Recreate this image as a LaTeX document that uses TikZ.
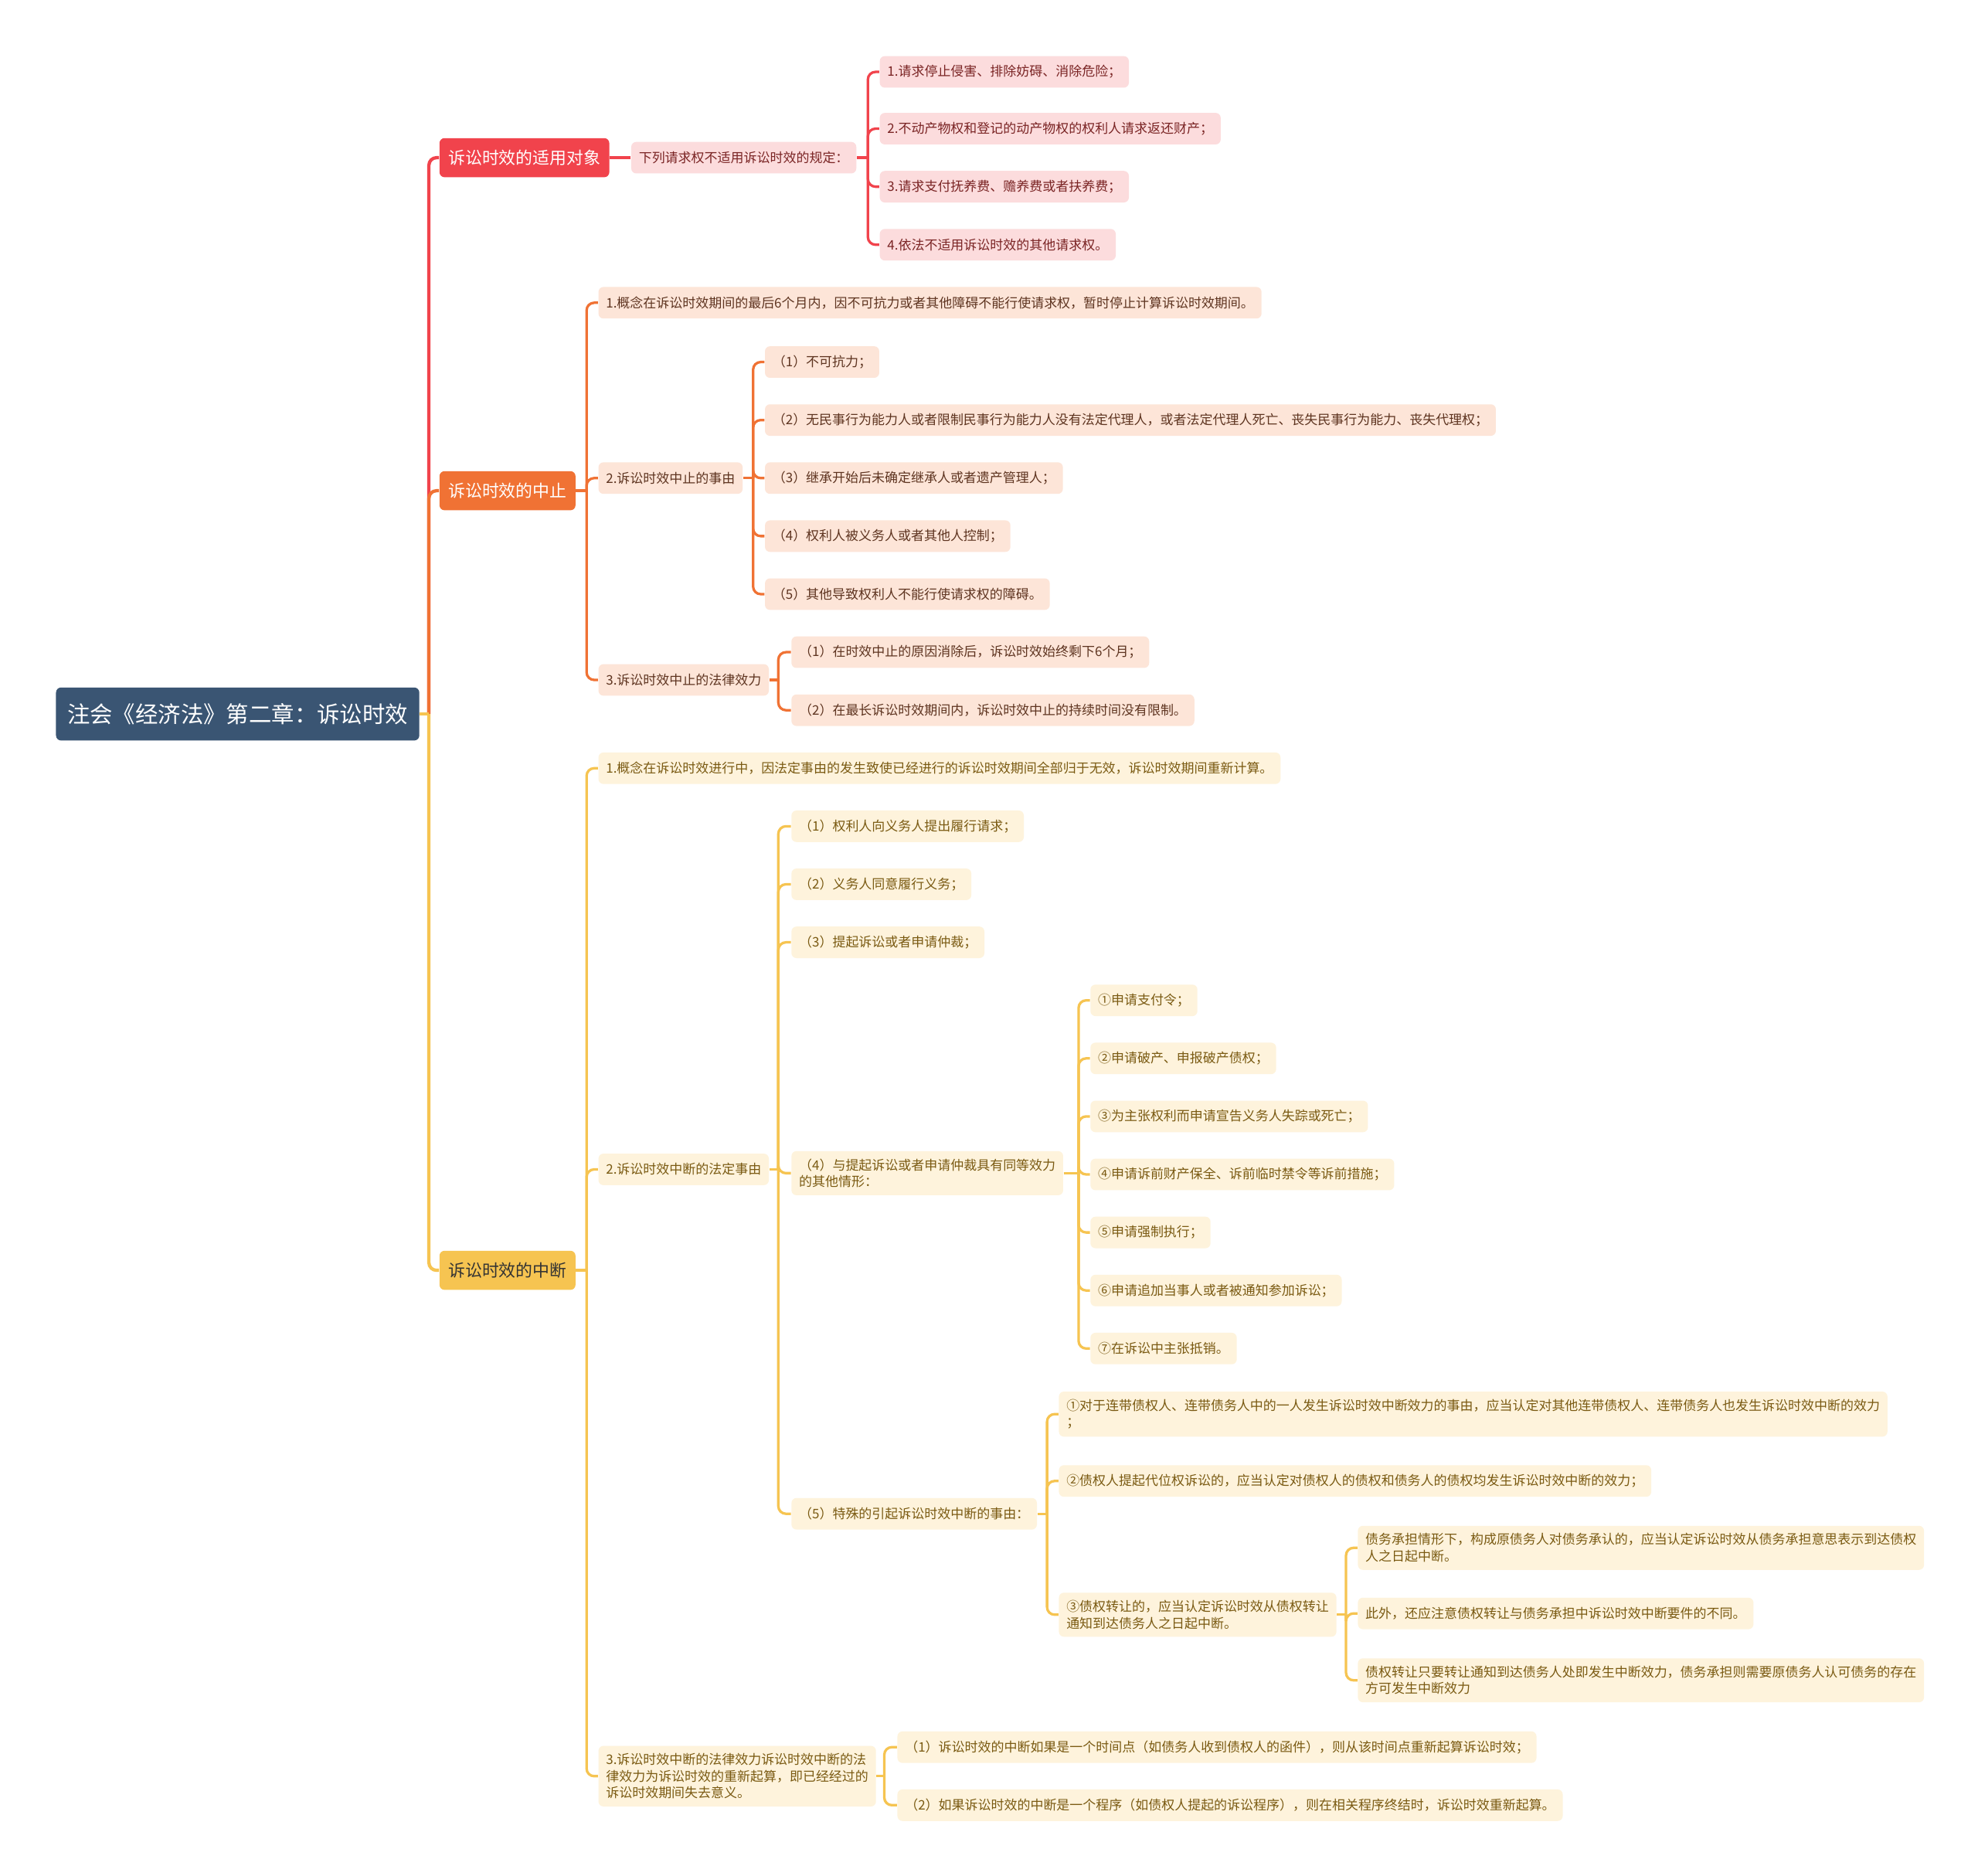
\documentclass[tikz,border=0pt]{standalone}
\usepackage{fontspec}
\setmainfont{Noto Sans CJK SC}
\definecolor{rootc}{HTML}{3A5573}
\definecolor{redc}{HTML}{F1434C}
\definecolor{redl}{HTML}{FCDCDD}
\definecolor{redt}{HTML}{7A2424}
\definecolor{orc}{HTML}{F07234}
\definecolor{orl}{HTML}{FDE5D8}
\definecolor{ort}{HTML}{5E3420}
\definecolor{yec}{HTML}{F6C451}
\definecolor{yel}{HTML}{FEF3DC}
\definecolor{yet}{HTML}{7A5A12}
\tikzset{
  base/.style={anchor=west, rounded corners=2pt, align=left},
  rootbox/.style={base, fill=rootc, text=white, font=\fontsize{9}{11}\selectfont, minimum height=21pt, inner xsep=4.5pt},
  lone/.style={base, font=\fontsize{6.7}{8}\selectfont, minimum height=15.5pt, inner xsep=3.5pt},
  leaf/.style={base, font=\fontsize{5.2}{6.6}\selectfont, minimum height=12.5pt, inner xsep=3pt, inner ysep=3pt},
  rleaf/.style={leaf, fill=redl, text=redt},
  oleaf/.style={leaf, fill=orl, text=ort},
  yleaf/.style={leaf, fill=yel, text=yet},
  trunk/.style={line width=1.3pt, rounded corners=3pt},
  conn/.style={line width=1pt, rounded corners=3pt}
}
\begin{document}
\begin{tikzpicture}[x=0.5pt,y=-0.5pt]
\fill[white] (0,0) rectangle (1568,1487);
\useasboundingbox (0,0) rectangle (1568,1487);

% root and level 1
\node[rootbox] (root) at (44,566) {注会《经济法》第二章：诉讼时效};
\node[lone, fill=redc, text=white] (A) at (348,125) {诉讼时效的适用对象};
\node[lone, fill=orc, text=white] (B) at (348,389) {诉讼时效的中止};
\node[lone, fill=yec, text=black!80] (C) at (348,1007) {诉讼时效的中断};

% red branch
\node[rleaf] (A1) at (500,125) {下列请求权不适用诉讼时效的规定：};
\node[rleaf] (A11) at (697,57) {1.请求停止侵害、排除妨碍、消除危险；};
\node[rleaf] (A12) at (697,102) {2.不动产物权和登记的动产物权的权利人请求返还财产；};
\node[rleaf] (A13) at (697,148) {3.请求支付抚养费、赡养费或者扶养费；};
\node[rleaf] (A14) at (697,194) {4.依法不适用诉讼时效的其他请求权。};

% orange branch
\node[oleaf] (B1) at (474,240) {1.概念在诉讼时效期间的最后6个月内，因不可抗力或者其他障碍不能行使请求权，暂时停止计算诉讼时效期间。};
\node[oleaf] (B2) at (474,379) {2.诉讼时效中止的事由};
\node[oleaf] (B21) at (606,287) {（1）不可抗力；};
\node[oleaf] (B22) at (606,333) {（2）无民事行为能力人或者限制民事行为能力人没有法定代理人，或者法定代理人死亡、丧失民事行为能力、丧失代理权；};
\node[oleaf] (B23) at (606,379) {（3）继承开始后未确定继承人或者遗产管理人；};
\node[oleaf] (B24) at (606,425) {（4）权利人被义务人或者其他人控制；};
\node[oleaf] (B25) at (606,471) {（5）其他导致权利人不能行使请求权的障碍。};
\node[oleaf] (B3) at (474,539) {3.诉讼时效中止的法律效力};
\node[oleaf] (B31) at (627,517) {（1）在时效中止的原因消除后，诉讼时效始终剩下6个月；};
\node[oleaf] (B32) at (627,563) {（2）在最长诉讼时效期间内，诉讼时效中止的持续时间没有限制。};

% yellow branch
\node[yleaf] (C1) at (474,609) {1.概念在诉讼时效进行中，因法定事由的发生致使已经进行的诉讼时效期间全部归于无效，诉讼时效期间重新计算。};
\node[yleaf] (C2) at (474,927) {2.诉讼时效中断的法定事由};
\node[yleaf] (C21) at (627,655) {（1）权利人向义务人提出履行请求；};
\node[yleaf] (C22) at (627,701) {（2）义务人同意履行义务；};
\node[yleaf] (C23) at (627,747) {（3）提起诉讼或者申请仲裁；};
\node[yleaf] (C24) at (627,930) {（4）与提起诉讼或者申请仲裁具有同等效力\\的其他情形：};
\node[yleaf] (C241) at (864,793) {①申请支付令；};
\node[yleaf] (C242) at (864,839) {②申请破产、申报破产债权；};
\node[yleaf] (C243) at (864,885) {③为主张权利而申请宣告义务人失踪或死亡；};
\node[yleaf] (C244) at (864,931) {④申请诉前财产保全、诉前临时禁令等诉前措施；};
\node[yleaf] (C245) at (864,977) {⑤申请强制执行；};
\node[yleaf] (C246) at (864,1023) {⑥申请追加当事人或者被通知参加诉讼；};
\node[yleaf] (C247) at (864,1069) {⑦在诉讼中主张抵销。};
\node[yleaf] (C25) at (627,1200) {（5）特殊的引起诉讼时效中断的事由：};
\node[yleaf] (C251) at (839,1121) {①对于连带债权人、连带债务人中的一人发生诉讼时效中断效力的事由，应当认定对其他连带债权人、连带债务人也发生诉讼时效中断的效力\\；};
\node[yleaf] (C252) at (839,1174) {②债权人提起代位权诉讼的，应当认定对债权人的债权和债务人的债权均发生诉讼时效中断的效力；};
\node[yleaf] (C253) at (839,1280) {③债权转让的，应当认定诉讼时效从债权转让\\通知到达债务人之日起中断。};
\node[yleaf] (C2531) at (1076,1227) {债务承担情形下，构成原债务人对债务承认的，应当认定诉讼时效从债务承担意思表示到达债权\\人之日起中断。};
\node[yleaf] (C2532) at (1076,1279) {此外，还应注意债权转让与债务承担中诉讼时效中断要件的不同。};
\node[yleaf] (C2533) at (1076,1332) {债权转让只要转让通知到达债务人处即发生中断效力，债务承担则需要原债务人认可债务的存在\\方可发生中断效力};
\node[yleaf] (C3) at (474,1408) {3.诉讼时效中断的法律效力诉讼时效中断的法\\律效力为诉讼时效的重新起算，即已经经过的\\诉讼时效期间失去意义。};
\node[yleaf] (C31) at (711,1385) {（1）诉讼时效的中断如果是一个时间点（如债务人收到债权人的函件），则从该时间点重新起算诉讼时效；};
\node[yleaf] (C32) at (711,1431) {（2）如果诉讼时效的中断是一个程序（如债权人提起的诉讼程序），则在相关程序终结时，诉讼时效重新起算。};

% junction coordinates
\coordinate (j0) at (340,566);
\coordinate (jA1) at (688,125);
\coordinate (jB) at (465,389);
\coordinate (jB2) at (597,379);
\coordinate (jB3) at (617,539);
\coordinate (jC) at (465,1007);
\coordinate (jC2) at (617,927);
\coordinate (jC24) at (855,930);
\coordinate (jC25) at (830,1200);
\coordinate (jC253) at (1067,1280);
\coordinate (jC3) at (701,1408);

% red connectors
\draw[trunk, redc] (root.east) -- (j0);
\draw[trunk, redc] (j0) |- (A.west);
\draw[trunk, redc] (A.east) -- (A1.west);
\draw[conn, redc] (A1.east) -- (jA1);
\foreach \n in {A11,A12,A13,A14} \draw[conn, redc] (jA1) |- (\n.west);

% orange connectors
\draw[trunk, orc] (root.east) -- (j0);
\draw[trunk, orc] (j0) |- (B.west);
\draw[conn, orc] (B.east) -- (jB);
\foreach \n in {B1,B2,B3} \draw[conn, orc] (jB) |- (\n.west);
\draw[conn, orc] (B2.east) -- (jB2);
\foreach \n in {B21,B22,B23,B24,B25} \draw[conn, orc] (jB2) |- (\n.west);
\draw[conn, orc] (B3.east) -- (jB3);
\foreach \n in {B31,B32} \draw[conn, orc] (jB3) |- (\n.west);

% yellow connectors
\draw[trunk, yec] (root.east) -- (j0);
\draw[trunk, yec] (j0) |- (C.west);
\draw[conn, yec] (C.east) -- (jC);
\foreach \n in {C1,C2,C3} \draw[conn, yec] (jC) |- (\n.west);
\draw[conn, yec] (C2.east) -- (jC2);
\foreach \n in {C21,C22,C23,C24,C25} \draw[conn, yec] (jC2) |- (\n.west);
\draw[conn, yec] (C24.east) -- (jC24);
\foreach \n in {C241,C242,C243,C244,C245,C246,C247} \draw[conn, yec] (jC24) |- (\n.west);
\draw[conn, yec] (C25.east) -- (jC25);
\foreach \n in {C251,C252,C253} \draw[conn, yec] (jC25) |- (\n.west);
\draw[conn, yec] (C253.east) -- (jC253);
\foreach \n in {C2531,C2532,C2533} \draw[conn, yec] (jC253) |- (\n.west);
\draw[conn, yec] (C3.east) -- (jC3);
\foreach \n in {C31,C32} \draw[conn, yec] (jC3) |- (\n.west);
\end{tikzpicture}
\end{document}
